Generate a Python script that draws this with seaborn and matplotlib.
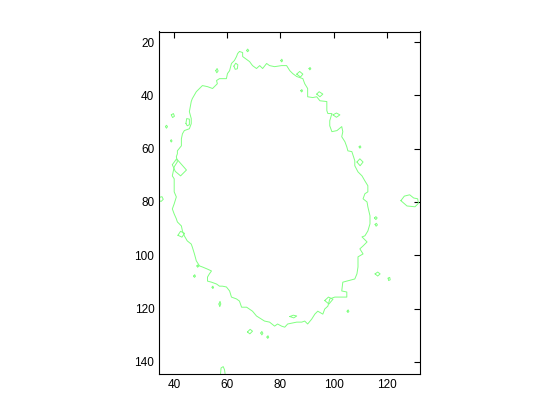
import matplotlib
matplotlib.use('Agg')
import matplotlib.pyplot as plt
import seaborn as sns
import pandas as pd

# main closed contour (x, y in image pixel units)
main_x = [64.6, 65.8, 65.8, 68.4, 69.5, 71.0, 72.2, 73.3, 74.8, 75.9, 77.8, 80.4, 82.3, 83.5,
          84.6, 86.1, 88.4, 89.1, 90.2, 90.2, 92.1, 93.6, 94.8, 97.4, 97.4, 97.8, 99.3, 98.5,
          98.5, 99.3, 101.2, 103.0, 103.4, 103.0, 104.2, 104.9, 105.3, 106.8, 107.9, 107.9,
          109.1, 110.6, 111.7, 112.8, 112.8, 111.7, 111.0, 112.5, 112.8, 113.6, 113.6, 112.8,
          111.7, 110.6, 112.5, 111.0, 109.8, 111.0, 109.1, 109.1, 108.7, 107.9, 103.4, 103.0,
          104.9, 104.9, 103.0, 100.4, 98.5, 97.8, 96.6, 95.9, 94.0, 92.9, 91.7, 90.2, 89.1,
          88.0, 86.1, 82.7, 81.6, 80.4, 78.9, 77.8, 75.9, 74.0, 71.0, 69.5, 67.3, 65.4, 64.6,
          63.5, 61.6, 60.9, 59.7, 58.2, 57.1, 56.0, 54.1, 52.6, 52.6, 53.3, 54.1, 52.6, 50.7,
          49.6, 48.4, 47.7, 46.9, 46.5, 45.0, 43.9, 43.2, 42.8, 41.3, 40.9, 40.1, 39.4, 40.1,
          40.9, 40.1, 40.1, 40.1, 39.4, 40.1, 41.3, 40.9, 41.3, 41.3, 42.8, 42.8, 43.2, 43.9,
          45.8, 46.5, 46.5, 45.8, 46.5, 46.9, 48.4, 49.6, 50.7, 52.6, 54.5, 56.3, 56.0, 57.1,
          59.7, 60.1, 60.9, 61.6, 62.7, 63.5, 63.9, 64.6]
main_y = [23.5, 23.9, 25.4, 27.3, 28.8, 29.9, 28.8, 29.9, 28.0, 28.8, 29.2, 28.8, 28.8, 30.7,
          31.8, 32.9, 33.7, 35.6, 37.4, 40.5, 40.8, 40.5, 42.0, 42.3, 45.7, 46.8, 46.8, 49.5,
          51.4, 53.6, 53.2, 51.7, 53.6, 55.5, 57.4, 59.3, 60.8, 61.1, 64.5, 66.4, 68.7, 70.2,
          72.1, 73.9, 76.2, 76.9, 78.8, 80.0, 81.8, 85.2, 88.2, 90.9, 92.7, 93.1, 95.0, 96.5,
          97.6, 99.5, 100.6, 104.4, 107.0, 108.9, 110.1, 113.4, 113.8, 115.7, 115.7, 115.7,
          116.4, 119.1, 120.2, 122.1, 121.0, 122.1, 124.0, 125.8, 124.7, 125.1, 125.1, 125.8,
          127.0, 126.6, 125.8, 126.6, 125.1, 124.7, 122.8, 121.0, 119.5, 119.5, 117.2, 116.4,
          115.7, 113.4, 111.9, 111.6, 111.6, 110.8, 110.1, 109.7, 108.2, 107.0, 105.9, 105.2,
          104.4, 104.0, 102.1, 99.5, 96.9, 95.8, 94.6, 92.7, 90.9, 89.0, 87.5, 86.3, 84.5,
          82.6, 80.7, 78.1, 76.2, 73.2, 71.3, 70.2, 66.8, 64.9, 63.0, 61.9, 60.8, 58.9, 56.3,
          54.4, 53.2, 52.5, 50.6, 48.7, 46.1, 42.3, 41.2, 38.6, 37.4, 36.3, 36.7, 37.4, 35.6,
          34.4, 33.7, 33.7, 31.8, 30.7, 28.0, 26.9, 25.4, 24.3, 23.5]

# small stray contour loops, each as a list of (x, y)
blobs = [
    [(125.2, 79.5), (126.5, 77.8), (128.5, 77.3), (130.0, 78.5), (131.5, 78.8), (131.8, 80.5),
     (130.5, 81.8), (127.5, 81.5), (125.2, 79.5)],
    [(115.5, 107.0), (116.5, 106.3), (117.4, 107.0), (116.5, 107.8), (115.5, 107.0)],
    [(120.4, 108.6), (121.0, 108.3), (121.2, 109.2), (120.6, 109.5), (120.4, 108.6)],
    [(83.5, 123.0), (84.8, 122.5), (86.1, 122.8), (85.0, 123.5), (83.5, 123.0)],
    [(67.6, 128.8), (68.6, 127.8), (69.5, 128.5), (68.5, 129.5), (67.6, 128.8)],
    [(72.6, 129.2), (73.0, 128.6), (73.4, 129.3), (73.0, 129.9), (72.6, 129.2)],
    [(74.9, 130.7), (75.3, 130.2), (75.6, 130.8), (75.2, 131.2), (74.9, 130.7)],
    [(105.0, 121.0), (105.4, 120.5), (105.7, 121.1), (105.3, 121.5), (105.0, 121.0)],
    [(56.9, 118.3), (57.3, 117.3), (57.6, 118.3), (57.2, 119.3), (56.9, 118.3)],
    [(57.5, 144.5), (57.7, 142.3), (58.5, 141.8), (59.0, 143.0), (59.2, 144.5)],
    [(115.3, 86.0), (115.8, 85.5), (116.3, 86.0), (115.8, 86.6), (115.3, 86.0)],
    [(115.5, 88.4), (116.0, 88.0), (116.4, 88.6), (115.9, 89.1), (115.5, 88.4)],
    [(47.4, 107.8), (47.8, 107.3), (48.1, 107.9), (47.7, 108.3), (47.4, 107.8)],
    [(48.6, 104.0), (49.0, 103.6), (49.3, 104.1), (48.9, 104.5), (48.6, 104.0)],
    [(41.5, 92.5), (42.5, 91.0), (44.0, 91.8), (43.0, 93.2), (41.5, 92.5)],
    [(34.5, 78.3), (35.5, 78.0), (36.0, 79.0), (35.2, 79.8), (34.5, 79.5)],
    [(36.8, 51.7), (37.2, 51.2), (37.6, 51.7), (37.2, 52.3), (36.8, 51.7)],
    [(38.7, 57.0), (39.0, 56.6), (39.3, 57.1), (39.0, 57.5), (38.7, 57.0)],
    [(39.0, 47.3), (39.8, 46.8), (40.2, 47.8), (39.5, 48.3), (39.0, 47.3)],
    [(44.5, 50.5), (44.8, 48.7), (45.8, 48.9), (45.8, 51.0), (45.0, 51.4), (44.5, 50.5)],
    [(55.7, 30.7), (56.2, 29.9), (56.6, 30.8), (56.1, 31.5), (55.7, 30.7)],
    [(62.5, 29.0), (63.2, 27.9), (64.0, 28.5), (63.8, 30.0), (63.0, 30.2), (62.5, 29.0)],
    [(67.3, 23.1), (67.7, 22.6), (68.1, 23.2), (67.6, 23.6), (67.3, 23.1)],
    [(80.1, 26.9), (80.5, 26.4), (80.8, 27.0), (80.4, 27.4), (80.1, 26.9)],
    [(86.1, 32.0), (87.2, 31.0), (88.4, 32.0), (87.5, 33.1), (86.1, 32.0)],
    [(90.7, 29.9), (91.1, 29.5), (91.4, 30.0), (91.0, 30.4), (90.7, 29.9)],
    [(87.6, 38.2), (88.0, 37.8), (88.3, 38.3), (87.9, 38.7), (87.6, 38.2)],
    [(93.6, 39.5), (94.5, 38.6), (95.9, 39.5), (94.8, 40.5), (93.6, 39.5)],
    [(99.7, 47.3), (101.0, 46.6), (102.3, 47.3), (101.0, 48.2), (99.7, 47.3)],
    [(109.5, 59.3), (109.9, 58.9), (110.2, 59.4), (109.8, 59.8), (109.5, 59.3)],
    [(108.7, 65.0), (109.8, 63.8), (111.0, 65.0), (109.9, 66.4), (108.7, 65.0)],
    [(39.4, 66.0), (41.0, 63.8), (42.5, 65.5), (44.7, 68.0), (42.5, 70.2), (40.5, 68.5), (39.4, 66.0)],
    [(96.6, 117.0), (98.0, 115.7), (99.7, 116.5), (98.2, 118.3), (96.6, 117.0)],
    [(54.3, 112.0), (54.6, 111.6), (54.9, 112.1), (54.6, 112.5), (54.3, 112.0)],
]

x_ticks = [40, 60, 80, 100, 120]
y_ticks = [20, 40, 60, 80, 100, 120, 140]

rows = [{'x': x, 'y': y, 'ring': 0, 'k': i} for i, (x, y) in enumerate(zip(main_x, main_y))]
for r, pts in enumerate(blobs, start=1):
    rows += [{'x': x, 'y': y, 'ring': r, 'k': i} for i, (x, y) in enumerate(pts)]
df = pd.DataFrame(rows)

sns.set_style('white')
plt.rcParams['font.family'] = ['Liberation Sans', 'DejaVu Sans']

fig = plt.figure(figsize=(5.6, 4.2), dpi=100)
ax = fig.add_axes([0.13, 0.11, 0.775, 0.815])
sns.lineplot(data=df, x='x', y='y', units='ring', estimator=None, sort=False,
             color='#80ff80', lw=0.7, ax=ax, legend=False)

ax.set_xlim(34.5, 132.5)
ax.set_ylim(144.5, 16)
ax.set_aspect('equal', adjustable='box', anchor='C')
ax.set_xticks(x_ticks)
ax.set_yticks(y_ticks)
ax.set_xlabel('')
ax.set_ylabel('')
ax.tick_params(direction='in', length=4, width=0.8, top=True, right=True,
               labelsize=8.5, colors='black')
for s in ax.spines.values():
    s.set_color('black')
    s.set_linewidth(0.8)

fig.savefig('out.png', dpi=100, facecolor='white')
